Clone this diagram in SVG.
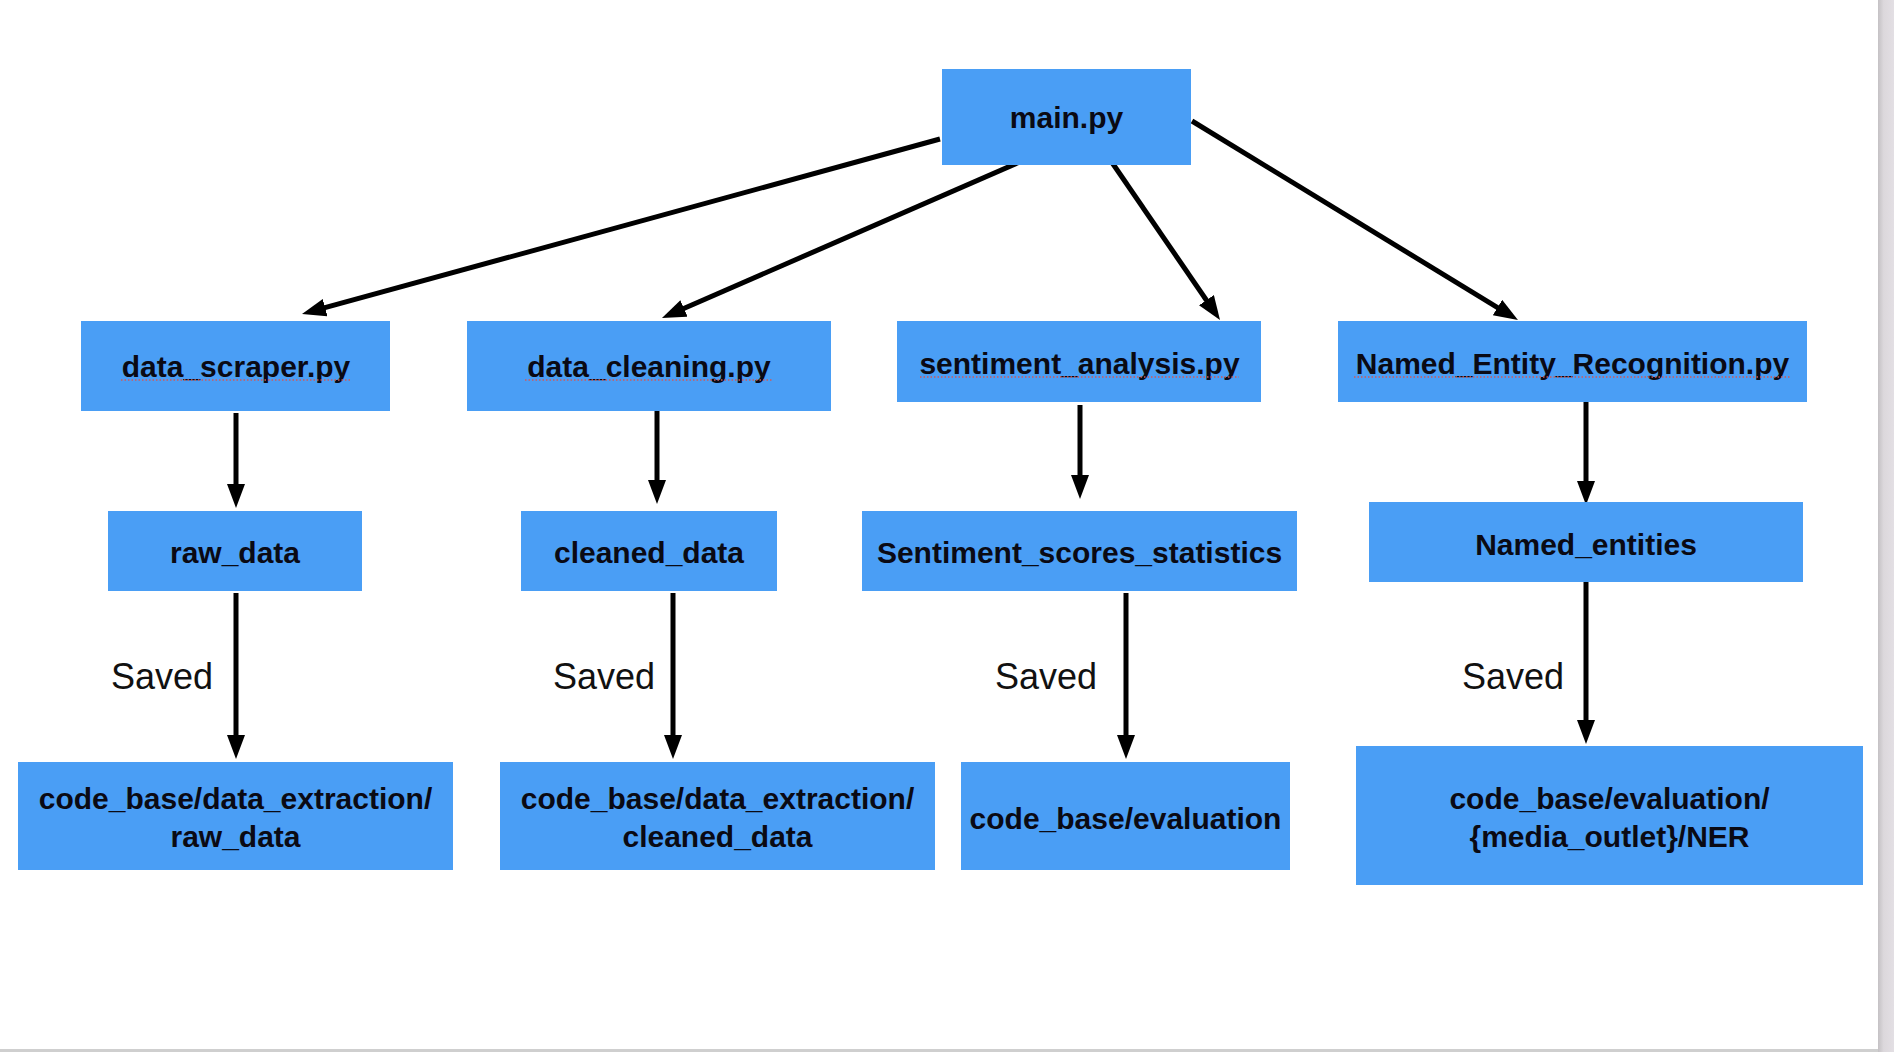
<svg xmlns="http://www.w3.org/2000/svg" width="1894" height="1052" viewBox="0 0 1894 1052">
<style>
.box{fill:#4A9EF5}
.t{font-family:"Liberation Sans",Arial,sans-serif;font-weight:bold;font-size:30px;fill:#0a0a14;text-anchor:middle}
.s{font-family:"Liberation Sans",Arial,sans-serif;font-size:36px;fill:#111}
.c{stroke:#000;stroke-width:5;fill:none;marker-end:url(#ah)}
.u{stroke:#d05a5a;stroke-width:1.5;stroke-dasharray:1.5 2;fill:none}
</style>
<defs>
<marker id="ah" markerUnits="userSpaceOnUse" markerWidth="26" markerHeight="20" refX="4" refY="9" orient="auto">
<path d="M0,0 L24,9 L0,18 z" fill="#000"/>
</marker>
<linearGradient id="edge" x1="0" x2="1" y1="0" y2="0">
<stop offset="0" stop-color="#c4c1c4"/>
<stop offset="0.35" stop-color="#dcd8dc"/>
<stop offset="1" stop-color="#e3dfe4"/>
</linearGradient>
</defs>
<rect x="0" y="0" width="1894" height="1052" fill="#fff"/>
<rect x="1878" y="0" width="16" height="1052" fill="url(#edge)"/>
<rect x="0" y="1049" width="1878" height="3" fill="#cfcfcf"/>

<g id="connectors">
<path class="c" d="M940,139 L321.3,308.7"/>
<path class="c" d="M1022,161 L680.3,310"/>
<path class="c" d="M1111,161 L1208.7,303.5"/>
<path class="c" d="M1192,121 L1500.9,309.6"/>
<path class="c" d="M236,413 L236,488"/>
<path class="c" d="M657,411 L657,484"/>
<path class="c" d="M1080,405 L1080,479"/>
<path class="c" d="M1586,400 L1586,485"/>
<path class="c" d="M236,593 L236,739"/>
<path class="c" d="M673,593 L673,739"/>
<path class="c" d="M1126,593 L1126,739"/>
<path class="c" d="M1586,582 L1586,724"/>
</g>

<g id="labels">
<text class="s" x="111" y="689">Saved</text>
<text class="s" x="553" y="689">Saved</text>
<text class="s" x="995" y="689">Saved</text>
<text class="s" x="1462" y="689">Saved</text>
</g>

<g id="main">
<rect class="box" x="942" y="69" width="249" height="96"/>
<text class="t" x="1066.5" y="128">main.py</text>
</g>
<g id="data_scraper">
<rect class="box" x="81" y="321" width="309" height="90"/>
<text class="t" x="236" y="377">data_scraper.py</text>
<path class="u" d="M121,380 H351"/>
</g>
<g id="data_cleaning">
<rect class="box" x="467" y="321" width="364" height="90"/>
<text class="t" x="649" y="377">data_cleaning.py</text>
<path class="u" d="M525,380 H772"/>
</g>
<g id="sentiment_analysis">
<rect class="box" x="897" y="321" width="364" height="81"/>
<text class="t" x="1079.5" y="374">sentiment_analysis.py</text>
<path class="u" d="M920,377 H1239"/>
</g>
<g id="ner_py">
<rect class="box" x="1338" y="321" width="469" height="81"/>
<text class="t" x="1572.5" y="374">Named_Entity_Recognition.py</text>
<path class="u" d="M1354,377 H1790"/>
</g>
<g id="raw_data">
<rect class="box" x="108" y="511" width="254" height="80"/>
<text class="t" x="235" y="563">raw_data</text>
</g>
<g id="cleaned_data">
<rect class="box" x="521" y="511" width="256" height="80"/>
<text class="t" x="649" y="563">cleaned_data</text>
</g>
<g id="sentiment_stats">
<rect class="box" x="862" y="511" width="435" height="80"/>
<text class="t" x="1079.5" y="563">Sentiment_scores_statistics</text>
</g>
<g id="named_entities">
<rect class="box" x="1369" y="502" width="434" height="80"/>
<text class="t" x="1586" y="555">Named_entities</text>
</g>
<g id="raw_dir">
<rect class="box" x="18" y="762" width="435" height="108"/>
<text class="t" x="235.5" y="809">code_base/data_extraction/</text>
<text class="t" x="235.5" y="847">raw_data</text>
</g>
<g id="cleaned_dir">
<rect class="box" x="500" y="762" width="435" height="108"/>
<text class="t" x="717.5" y="809">code_base/data_extraction/</text>
<text class="t" x="717.5" y="847">cleaned_data</text>
</g>
<g id="eval_dir">
<rect class="box" x="961" y="762" width="329" height="108"/>
<text class="t" x="1125.5" y="829">code_base/evaluation</text>
</g>
<g id="ner_dir">
<rect class="box" x="1356" y="746" width="507" height="139"/>
<text class="t" x="1609.5" y="809">code_base/evaluation/</text>
<text class="t" x="1609.5" y="847">{media_outlet}/NER</text>
</g>
</svg>
